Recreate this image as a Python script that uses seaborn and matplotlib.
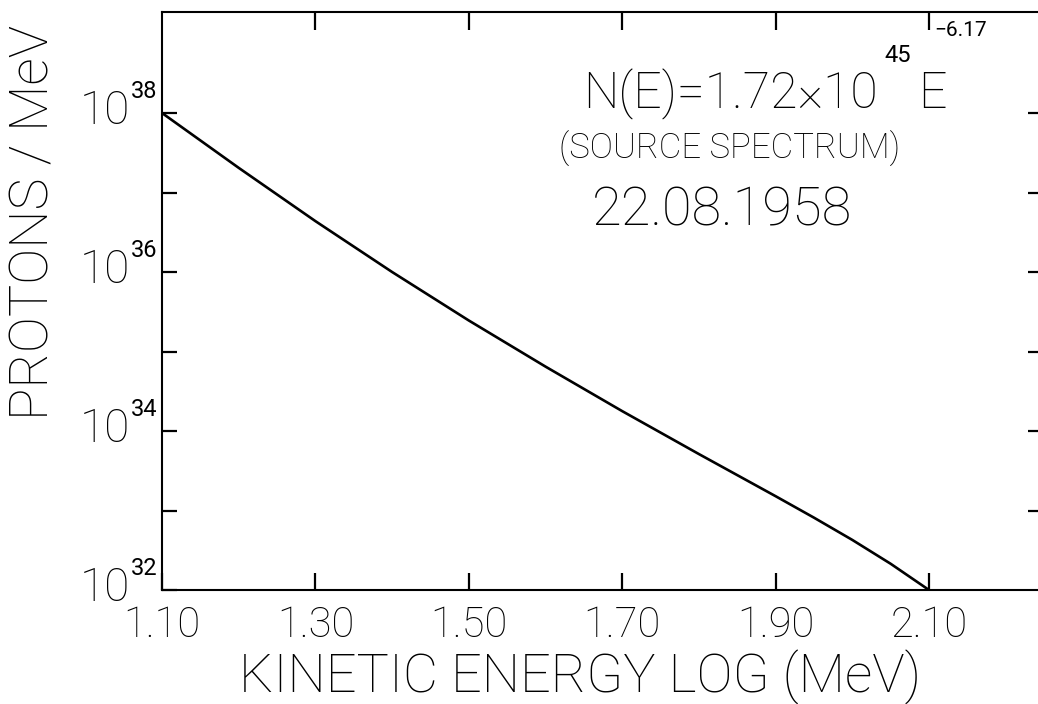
import numpy as np
import pandas as pd
import matplotlib
matplotlib.use("Agg")
import matplotlib.pyplot as plt
import seaborn as sns

# ---- data ----
log_energy = [1.10, 1.20, 1.30, 1.40, 1.50, 1.60, 1.70, 1.80, 1.90, 1.95, 2.00, 2.05, 2.10]
log_protons = [38.00, 37.31, 36.64, 36.00, 35.39, 34.81, 34.25, 33.71, 33.18, 32.91,
               32.63, 32.33, 32.00]
x_ticks = [1.10, 1.30, 1.50, 1.70, 1.90, 2.10]
x_tick_labels = ["1.10", "1.30", "1.50", "1.70", "1.90", "2.10"]
y_exponents = [32, 34, 36, 38]
y_minor_exponents = [32, 33, 34, 35, 36, 37, 38]

sns.set_theme(style="ticks")
plt.rcParams["font.family"] = ["Roboto", "DejaVu Sans"]
plt.rcParams["font.weight"] = "light"

W, H = 1038, 704
fig = plt.figure(figsize=(W / 100, H / 100), dpi=100)
fig.patch.set_facecolor("white")

left, right, top, bottom = 162, 1038, 12, 590
ax = fig.add_axes([left / W, 1 - bottom / H, (right - left) / W, (bottom - top) / H])
ax.set_facecolor("white")

df = pd.DataFrame({"E": log_energy, "N": [10.0 ** v for v in log_protons]})
sns.lineplot(data=df, x="E", y="N", ax=ax, color="black", linewidth=1.9, sort=False)
ax.set_xlabel("")
ax.set_ylabel("")

ax.set_yscale("log")
px_per_unit_x = (929 - 162) / 1.0
ax.set_xlim(1.10, 1.10 + (right - left) / px_per_unit_x)
px_per_dec = (590 - 113) / 6.0
ax.set_ylim(1e32, 10 ** (38 + (113 - top) / px_per_dec))

for s in ["left", "bottom", "top"]:
    ax.spines[s].set_linewidth(1.5)
    ax.spines[s].set_color("black")
ax.spines["right"].set_visible(False)

# bottom ticks with labels
ax.set_xticks(x_ticks)
ax.set_xticklabels(x_tick_labels)
ax.tick_params(axis="x", which="major", direction="in", length=12, width=1.6,
               top=False, bottom=True, labelsize=30, pad=11, colors="black")
for lab in ax.get_xticklabels():
    lab.set_fontweight("light")

# top ticks
sec = ax.secondary_xaxis("top")
sec.set_xticks(x_ticks[1:])
sec.set_xticklabels([])
sec.tick_params(direction="in", length=13, width=1.6, colors="black")
sec.spines["top"].set_visible(False)

# left ticks (every decade) without default labels
ax.set_yticks([10.0 ** e for e in y_minor_exponents])
ax.set_yticklabels([])
ax.yaxis.set_minor_locator(matplotlib.ticker.NullLocator())
ax.tick_params(axis="y", which="major", direction="in", length=11, width=1.6,
               left=True, right=False, colors="black")

# right ticks
secy = ax.secondary_yaxis("right")
secy.set_yticks([10.0 ** e for e in y_minor_exponents[1:]])
secy.set_yticklabels([])
secy.yaxis.set_minor_locator(matplotlib.ticker.NullLocator())
secy.tick_params(direction="in", length=7, width=1.6, colors="black")
secy.spines["right"].set_visible(False)

# y tick labels: 10 with superscript
ytr = ax.get_yaxis_transform()
for e in y_exponents:
    ax.text(-0.037, 10.0 ** (e + 0.02), "10", transform=ytr, ha="right", va="center",
            fontsize=33, fontweight="light", color="black")
    ax.text(-0.036, 10.0 ** (e + 0.13), str(e), transform=ytr, ha="left", va="bottom",
            fontsize=17, fontweight="normal", color="black")

def ftext(x, y, s, **kw):
    fig.text(x / W, 1 - y / H, s, **kw)

# axis titles
ftext(580, 677, "KINETIC ENERGY LOG (MeV)", ha="center", va="center",
      fontsize=39, fontweight="light", color="black")
ftext(34, 222, "PROTONS / MeV", ha="center", va="center", rotation=90,
      fontsize=39, fontweight="light", color="black")

# annotation
ftext(583, 108, "N(E)=1.72×10", ha="left", va="baseline", fontsize=36,
      fontweight="light", color="black")
ftext(884, 62, "45", ha="left", va="baseline", fontsize=17, fontweight="normal", color="black")
ftext(918, 108, "E", ha="left", va="baseline", fontsize=36, fontweight="light", color="black")
ftext(934, 36, "−6.17", ha="left", va="baseline", fontsize=15, fontweight="normal", color="black")
ftext(730, 159, "(SOURCE SPECTRUM)", ha="center", va="baseline", fontsize=25,
      fontweight="light", color="black")
ftext(722, 225, "22.08.1958", ha="center", va="baseline", fontsize=39,
      fontweight="light", color="black")

fig.savefig("out.png", dpi=100, facecolor="white")
